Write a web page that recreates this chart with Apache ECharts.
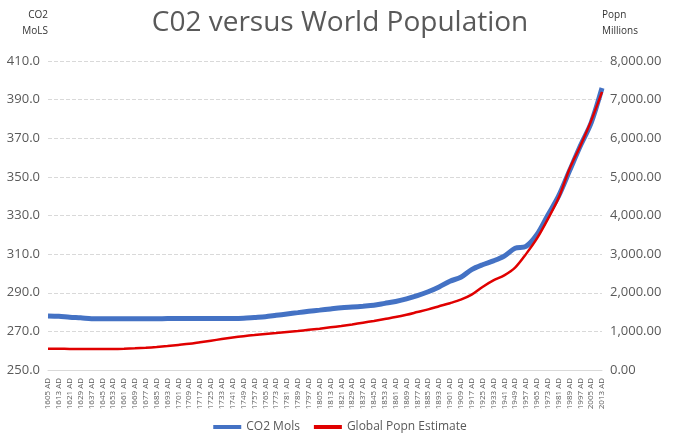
<!DOCTYPE html>
<html>
<head>
<meta charset="UTF-8">
<script src="https://cdn.jsdelivr.net/npm/echarts@6/dist/echarts.min.js"></script>
</head>
<body style="margin:0">
<div id="main" style="width:680px;height:446px"></div>
<script>
  // categories every 8 years, 1605..2013
  const years = []
  for (let y = 1605; y <= 2013; y += 8) years.push(y + ' AD')
  const co2 = [278, 277.8, 277.3, 277, 276.6, 276.5, 276.5, 276.5, 276.5, 276.5,
    276.5, 276.7, 276.7, 276.7, 276.7, 276.7, 276.7, 276.7, 276.8, 277.2,
    277.6, 278.3, 279, 279.7, 280.4, 281, 281.6, 282.2, 282.6, 283,
    283.5, 284.5, 285.5, 286.8, 288.5, 290.5, 293, 296, 298, 302,
    304.5, 306.5, 309, 313, 314, 320, 330, 340, 353, 366, 378, 396]
  const popn = [550, 550, 545, 545, 545, 545, 545, 550, 560, 575,
    595, 620, 650, 680, 720, 760, 800, 840, 875, 905,
    935, 960, 985, 1010, 1040, 1070, 1105, 1140, 1180, 1225,
    1270, 1320, 1370, 1430, 1500, 1570, 1650, 1730, 1820, 1950,
    2150, 2320, 2450, 2650, 3000, 3400, 3900, 4450, 5200, 5800, 6450, 7200]

  const grey = '#595959'
  const chart = echarts.init(document.getElementById('main'))
  chart.setOption({
    animation: false,
    textStyle: { fontFamily: 'Open Sans' },
    title: { text: 'C02 versus World Population', left: 'center', top: 4,
      textStyle: { fontSize: 28, fontWeight: 'normal', color: grey } },
    grid: { left: 48, right: 78, top: 61, bottom: 76 },
    legend: { bottom: 8, itemGap: 14, textStyle: { color: grey, fontSize: 12 },
      data: [{ name: 'CO2 Mols', icon: 'rect' }, { name: 'Global Popn Estimate', icon: 'rect' }],
      itemWidth: 28, itemHeight: 4 },
    xAxis: { type: 'category', data: years, boundaryGap: false,
      axisLine: { lineStyle: { color: '#d9d9d9' } }, axisTick: { show: false },
      axisLabel: { rotate: 90, interval: 0, fontSize: 8, color: grey } },
    yAxis: [
      { type: 'value', min: 250, max: 410, interval: 20, name: 'CO2\nMoLS',
        nameLocation: 'end', nameGap: 22, nameTextStyle: { fontSize: 10, color: '#333', align: 'right', lineHeight: 16 },
        axisLabel: { color: grey, fontSize: 13, formatter: v => v.toFixed(1) },
        splitLine: { lineStyle: { color: '#d9d9d9', type: 'dashed' } } },
      { type: 'value', min: 0, max: 8000, interval: 1000, name: 'Popn\nMillions',
        nameLocation: 'end', nameGap: 22, nameTextStyle: { fontSize: 10, color: '#333', align: 'left', lineHeight: 16 },
        axisLabel: { color: grey, fontSize: 13,
          formatter: v => v.toLocaleString('en-US', { minimumFractionDigits: 2 }) },
        splitLine: { show: false } }
    ],
    series: [
      { name: 'CO2 Mols', type: 'line', data: co2, yAxisIndex: 0, showSymbol: false,
        smooth: 0.3, itemStyle: { color: '#4472c4' }, lineStyle: { width: 5, color: '#4472c4' } },
      { name: 'Global Popn Estimate', type: 'line', data: popn, yAxisIndex: 1, showSymbol: false,
        smooth: 0.3, itemStyle: { color: '#e00000' }, lineStyle: { width: 2.5, color: '#e00000' } }
    ]
  })
</script>
</body>
</html>
